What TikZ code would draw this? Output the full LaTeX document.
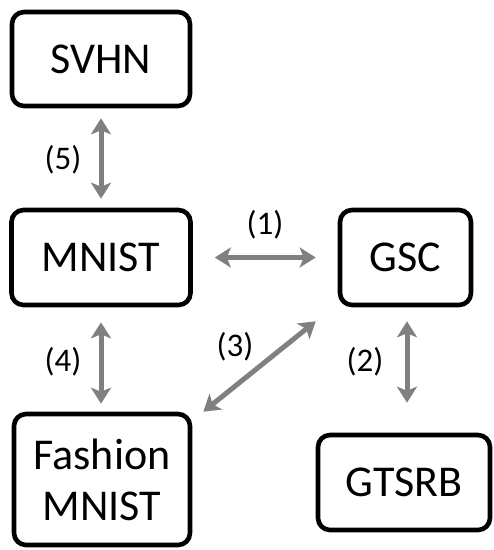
\documentclass[tikz,border=0pt]{standalone}
\usepackage{fontspec}
\setmainfont{Carlito}
\usetikzlibrary{arrows.meta,calc}
\definecolor{linkgray}{RGB}{128,128,128}
\begin{document}
\begin{tikzpicture}[x=1pt,y=-1pt,
  dataset/.style={draw=black,line width=4.6pt,rounded corners=12pt,fill=white,
    align=center,inner sep=0pt,font=\fontsize{44}{51}\selectfont},
  link/.style={draw=linkgray,line width=5pt,
    {Stealth[length=16pt,width=20pt,inset=4pt]}-{Stealth[length=16pt,width=20pt,inset=4pt]}},
  tag/.style={font=\fontsize{33}{38}\selectfont,inner sep=0pt}]
\useasboundingbox (0,0) rectangle (494,550);

% datasets
\node[dataset,minimum width=178pt,minimum height=94pt] (svhn) at (101,59) {SVHN};
\node[dataset,minimum width=179pt,minimum height=95pt] (mnist) at (101,257.5) {MNIST};
\node[dataset,minimum width=131pt,minimum height=95pt] (gsc) at (405.5,257.5) {GSC};
\node[dataset,minimum width=176pt,minimum height=131pt] (fashion) at (102,479.5) {Fashion\\MNIST};
\node[dataset,minimum width=172pt,minimum height=95pt] (gtsrb) at (404,482.5) {GTSRB};

% transfer links
\draw[link,shorten <=10pt,shorten >=9pt] (svhn.south) -- (mnist.north);
\draw[link,shorten <=22pt,shorten >=22pt] (mnist.east) -- (gsc.west);
\draw[link] ($(gsc.south)+(1.5,14)$) -- ($(gtsrb.north)+(3,-30)$);
\draw[link] ($(fashion.north east)+(11,0)$) -- ($(gsc.south west)+(-22,14)$);
\draw[link,shorten <=15pt,shorten >=8pt] (mnist.south) -- (fashion.north -| mnist.south);

% link labels
\node[tag] (l5) at (63,160) {(5)};
\node[tag] (l1) at (265,225) {(1)};
\node[tag] (l3) at (235,347) {(3)};
\node[tag] (l2) at (365,362) {(2)};
\node[tag] (l4) at (63,362) {(4)};
\end{tikzpicture}
\end{document}
